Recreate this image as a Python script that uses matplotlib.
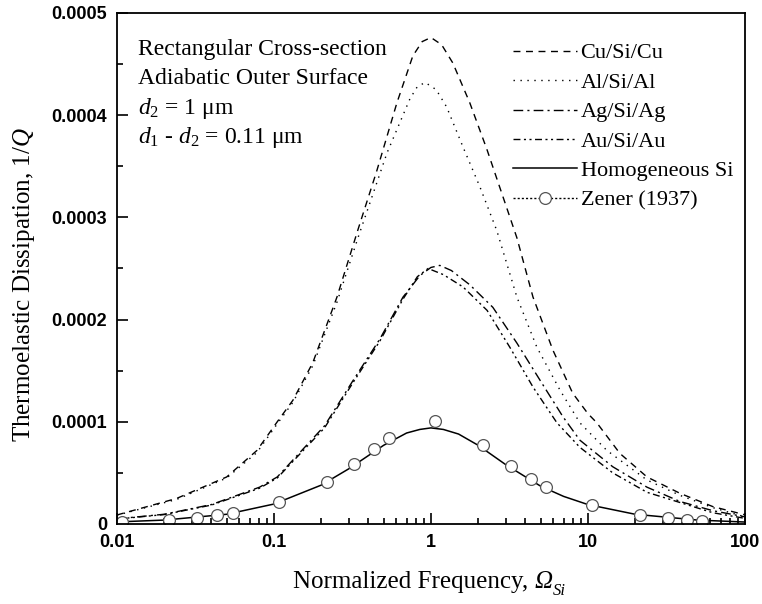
import matplotlib
matplotlib.use("Agg")
import matplotlib.pyplot as plt
from matplotlib.lines import Line2D
from matplotlib.ticker import FixedLocator, FuncFormatter, LogLocator, NullFormatter

plt.rcParams["font.family"] = ["Liberation Serif", "DejaVu Serif"]
plt.rcParams["mathtext.fontset"] = "custom"
plt.rcParams["mathtext.rm"] = "Liberation Serif"
plt.rcParams["mathtext.it"] = "Liberation Serif:italic"

# values
omega_cu = [0.01, 0.024, 0.05, 0.078, 0.105, 0.132, 0.177, 0.252, 0.343, 0.453, 0.607, 0.767, 0.88, 1.0,
            1.17, 1.38, 1.77, 2.28, 2.88, 3.53, 4.47, 5.99, 8.0, 10.0, 11.4, 16.0, 23.8, 38.6, 62.5, 100]
q_cu = [8.8e-6, 2.5e-5, 4.6e-5, 7.2e-5, 1.0e-4, 1.21e-4, 1.58e-4, 2.22e-4, 2.88e-4, 3.46e-4, 4.12e-4, 4.58e-4, 4.72e-4, 4.76e-4,
        4.69e-4, 4.51e-4, 4.12e-4, 3.66e-4, 3.20e-4, 2.80e-4, 2.22e-4, 1.70e-4, 1.28e-4, 1.08e-4, 9.9e-5, 6.9e-5, 4.6e-5, 3.0e-5, 1.7e-5, 9e-6]

omega_al = [0.01, 0.024, 0.05, 0.078, 0.105, 0.132, 0.177, 0.252, 0.343, 0.525, 0.735, 0.82, 0.92,
            1.08, 1.26, 1.60, 2.05, 2.63, 3.53, 4.73, 6.64, 8.89, 13.2, 23.8, 38.6, 62.5, 100]
q_al = [8.6e-6, 2.4e-5, 4.5e-5, 7.0e-5, 9.8e-5, 1.19e-4, 1.55e-4, 2.17e-4, 2.80e-4, 3.63e-4, 4.16e-4, 4.28e-4, 4.32e-4,
        4.25e-4, 4.08e-4, 3.69e-4, 3.30e-4, 2.87e-4, 2.22e-4, 1.73e-4, 1.31e-4, 9.9e-5, 7.2e-5, 4.3e-5, 2.8e-5, 1.6e-5, 7e-6]

omega_ag = [0.01, 0.02, 0.04, 0.081, 0.105, 0.21, 0.318, 0.473, 0.664, 0.85, 1.0, 1.14, 1.35,
            1.77, 2.48, 3.53, 4.94, 6.93, 8.89, 14.4, 23.8, 38.6, 62.5, 100]
q_ag = [5.0e-6, 9.5e-6, 1.9e-5, 3.6e-5, 4.6e-5, 9.6e-5, 1.40e-4, 1.81e-4, 2.22e-4, 2.43e-4, 2.51e-4, 2.53e-4, 2.48e-4,
        2.34e-4, 2.12e-4, 1.77e-4, 1.41e-4, 1.05e-4, 8.2e-5, 5.6e-5, 3.6e-5, 2.2e-5, 1.3e-5, 7e-6]

omega_au = [0.01, 0.02, 0.04, 0.081, 0.105, 0.21, 0.318, 0.473, 0.664, 0.82, 0.96, 1.2,
            1.60, 2.28, 3.18, 4.47, 6.35, 8.89, 14.4, 23.8, 38.6, 62.5, 100]
q_au = [4.8e-6, 9.2e-6, 1.85e-5, 3.5e-5, 4.5e-5, 9.4e-5, 1.38e-4, 1.79e-4, 2.20e-4, 2.42e-4, 2.50e-4, 2.44e-4,
        2.32e-4, 2.09e-4, 1.73e-4, 1.34e-4, 9.9e-5, 7.5e-5, 5.0e-5, 3.1e-5, 2.1e-5, 1.1e-5, 5.5e-6]

omega_si = [0.01, 0.02, 0.05, 0.1, 0.2, 0.3, 0.5, 0.7, 0.85, 1.0, 1.2, 1.5, 2.0, 3.0, 5.0, 7.0, 10, 20, 50, 100]
q_si = [2.0e-6, 3.8e-6, 9.5e-6, 1.95e-5, 3.8e-5, 5.4e-5, 7.7e-5, 8.9e-5, 9.25e-5, 9.4e-5, 9.25e-5, 8.8e-5, 7.7e-5, 5.8e-5,
        3.7e-5, 2.7e-5, 1.9e-5, 9.5e-6, 3.8e-6, 1.9e-6]

omega_zener = [0.0108, 0.0215, 0.0325, 0.0432, 0.0546, 0.108, 0.217, 0.323, 0.434, 0.54,
               1.06, 2.15, 3.23, 4.32, 5.38, 10.7, 21.4, 32.5, 42.9, 53.4]
q_zener = [2.2e-6, 3.9e-6, 6.2e-6, 8.8e-6, 1.05e-5, 2.12e-5, 4.1e-5, 5.87e-5, 7.3e-5, 8.4e-5,
           1.01e-4, 7.7e-5, 5.7e-5, 4.4e-5, 3.6e-5, 1.86e-5, 8.8e-6, 6.2e-6, 3.9e-6, 2.9e-6]

x_ticks = [0.01, 0.1, 1, 10, 100]
y_ticks = [0, 0.0001, 0.0002, 0.0003, 0.0004, 0.0005]

fig = plt.figure(figsize=(7.62, 6.04), dpi=100)
ax = fig.add_axes([0.1535, 0.1325, 0.824, 0.846])

lw = 1.0
ls_cu = (0, (5, 4))
ls_al = (0, (1, 4))
ls_ag = (0, (7, 3, 1.5, 3))
ls_au = (0, (5, 2.5, 1.5, 2.5, 1.5, 2.5))
ax.plot(omega_cu, q_cu, color="black", lw=lw, ls=ls_cu)
ax.plot(omega_al, q_al, color="black", lw=lw, ls=ls_al)
ax.plot(omega_ag, q_ag, color="black", lw=lw, ls=ls_ag)
ax.plot(omega_au, q_au, color="black", lw=lw, ls=ls_au)
ax.plot(omega_si, q_si, color="black", lw=1.1, ls="-")
ax.plot(omega_zener, q_zener, ls="none", marker="o", ms=8.5, mfc="white", mec="#555555", mew=0.9)

ax.set_xscale("log")
ax.set_xlim(0.01, 100)
ax.set_ylim(0, 0.0005)

ax.xaxis.set_major_locator(FixedLocator(x_ticks))
ax.xaxis.set_minor_locator(LogLocator(base=10, subs=range(2, 10)))
ax.xaxis.set_minor_formatter(NullFormatter())
ax.xaxis.set_major_formatter(FuncFormatter(lambda v, p: "%g" % v))
ax.yaxis.set_major_locator(FixedLocator(y_ticks))
ax.yaxis.set_minor_locator(FixedLocator([0.00005, 0.00015, 0.00025, 0.00035, 0.00045]))
ax.yaxis.set_major_formatter(FuncFormatter(lambda v, p: "0" if v == 0 else "%.4f" % v))

ax.tick_params(which="both", direction="in", top=False, right=False, width=1.2)
ax.tick_params(which="major", length=8, pad=7)
ax.tick_params(which="minor", length=4.5)
for lab in ax.get_xticklabels() + ax.get_yticklabels():
    lab.set_fontfamily("Liberation Sans")
    lab.set_fontweight("bold")
    lab.set_fontsize(13)
for s in ax.spines.values():
    s.set_linewidth(1.3)

# x label: plain part, then italic Omega with italic subscript Si
xlab = ax.set_xlabel("Normalized Frequency,", fontsize=18)
xlab.set_ha("left")
ax.xaxis.set_label_coords(0.280, -0.093)
om = ax.annotate("Ω", xy=(1, 0), xycoords=xlab, xytext=(4.5, 0), textcoords="offset points",
                 ha="left", va="bottom", fontsize=18, fontstyle="italic")
ax.annotate("Si", xy=(1, 0), xycoords=om, xytext=(0, -4), textcoords="offset points",
            ha="left", va="bottom", fontsize=12, fontstyle="italic")

ax.set_ylabel(r"Thermoelastic Dissipation, 1/$Q$", fontsize=18)
ax.yaxis.set_label_coords(-0.127, 0.468)

note_lines = ["Rectangular Cross-section", "Adiabatic Outer Surface",
              r"$d_2$ = 1 μm", r"$d_1$ - $d_2$ = 0.11 μm"]
note_y = [0.928, 0.871, 0.814, 0.757]
for txt, yy in zip(note_lines, note_y):
    ax.text(0.033, yy, txt, transform=ax.transAxes, fontsize=17, va="center")

handles = [
    Line2D([], [], color="black", lw=lw, ls=ls_cu),
    Line2D([], [], color="black", lw=lw, ls=ls_al),
    Line2D([], [], color="black", lw=lw, ls=ls_ag),
    Line2D([], [], color="black", lw=lw, ls=ls_au),
    Line2D([], [], color="black", lw=1.1, ls="-"),
    Line2D([], [], color="black", lw=lw, ls=(0, (1.5, 1.5)), marker="o", ms=8.5,
           mfc="white", mec="#555555", mew=0.9),
]
labels = ["Cu/Si/Cu", "Al/Si/Al", "Ag/Si/Ag", "Au/Si/Au", "Homogeneous Si", "Zener (1937)"]
ax.legend(handles, labels, loc="upper right", bbox_to_anchor=(1.006, 0.972), frameon=False, fontsize=16,
          handlelength=2.88, handletextpad=0.14, labelspacing=0.40, borderaxespad=0.3)

fig.savefig("out.png", dpi=100)
